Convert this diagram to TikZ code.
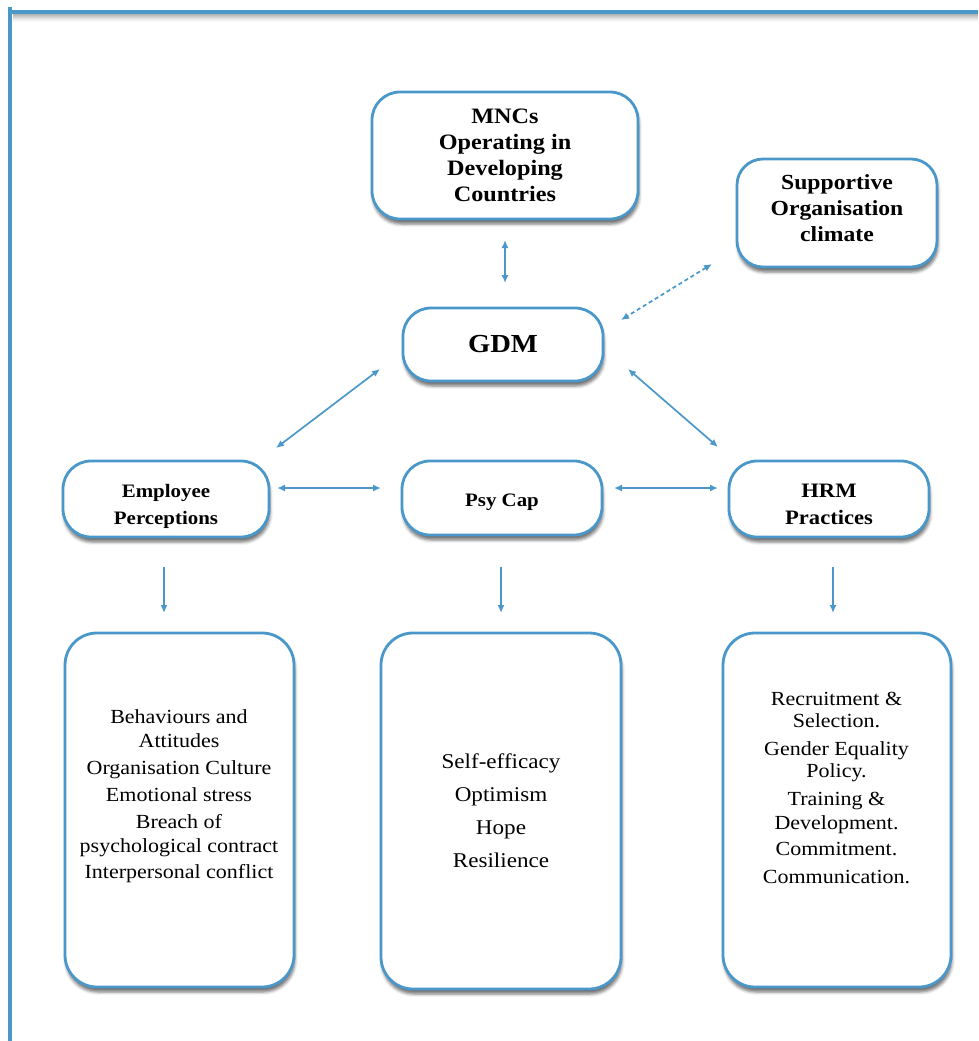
\documentclass[tikz,border=0pt]{standalone}
\usepackage{fontspec}
\setmainfont[FakeStretch=1.1]{Liberation Serif}
\usetikzlibrary{arrows.meta,shadows.blur}
\definecolor{fb}{RGB}{74,152,202}
\begin{document}
\begin{tikzpicture}[x=1pt,y=-1pt,
  box/.style={draw=fb, line width=2.8pt, fill=white, rounded corners=28pt,
    blur shadow={shadow xshift=1pt, shadow yshift=-5pt, shadow blur radius=3pt, shadow opacity=55},
    inner sep=0pt, align=center},
  btxt/.style={align=center, inner sep=0pt},
  conn/.style={draw=fb, line width=1.7pt, {Latex[length=8pt,width=7pt]}-{Latex[length=8pt,width=7pt]}},
  down/.style={draw=fb, line width=1.7pt, -{Latex[length=8pt,width=7pt]}},
  dconn/.style={conn, dash pattern=on 4pt off 3pt}
]
\useasboundingbox (0,0) rectangle (978,1041);
% frame
\foreach \k/\o in {0/0.30,1/0.26,2/0.21,3/0.16,4/0.12,5/0.08,6/0.05,7/0.02}{
  \draw[black, opacity=\o, line width=1.05pt] (13,14.5+\k) -- (978,14.5+\k);
}
\draw[fb, line width=3.6pt] (10,1041) -- (10,7);
\draw[fb, line width=3.6pt] (8.2,12) -- (978,12);

% top boxes
\node[box, minimum width=266pt, minimum height=127pt, font=\fontsize{22}{26}\selectfont\bfseries]
  (mnc) at (505,155.5) {MNCs\\Operating in\\Developing\\Countries};
\node[box, minimum width=200pt, minimum height=108pt, rounded corners=26pt, font=\fontsize{21.5}{26}\selectfont\bfseries]
  (soc) at (837,213) {Supportive\\Organisation\\climate\\[-16pt]\mbox{}};
\node[box, minimum width=200pt, minimum height=73pt, font=\fontsize{26}{30}\selectfont\bfseries]
  (gdm) at (503,344.5) {GDM};

% middle row
\node[box, minimum width=206pt, minimum height=76pt] (emp) at (166,499) {};
\node[box, minimum width=200pt, minimum height=74pt] (psy) at (502,498) {};
\node[box, minimum width=200pt, minimum height=76pt] (hrm) at (829,499) {};
\node[btxt, font=\fontsize{19}{27}\selectfont\bfseries] (empT) at (166,506) {Employee\\Perceptions};
\node[btxt, font=\fontsize{19}{27}\selectfont\bfseries] (psyT) at (502,502) {Psy Cap};
\node[btxt, font=\fontsize{20.5}{27}\selectfont\bfseries] (hrmT) at (829,504) {HRM\\Practices};

% bottom boxes
\node[box, minimum width=229pt, minimum height=354pt, rounded corners=32pt] (bl) at (179.5,810) {};
\node[box, minimum width=240pt, minimum height=356pt, rounded corners=32pt,
  font=\fontsize{21}{33}\selectfont] (bm) at (501,811) {Self-efficacy\\Optimism\\Hope\\Resilience};
\node[box, minimum width=228pt, minimum height=354pt, rounded corners=32pt] (br) at (837,810) {};

\node[btxt, font=\fontsize{20}{24}\selectfont] (blt) at (179,796)
  {Behaviours and\\Attitudes\\[3pt]Organisation Culture\\[3pt]Emotional stress\\[3pt]Breach of\\psychological contract\\[2pt]Interpersonal conflict};
\node[btxt, font=\fontsize{20}{22}\selectfont] (brt) at (836.5,788)
  {Recruitment \&\\Selection.\\[6pt]Gender Equality\\Policy.\\[6pt]Training \&\\[2pt]Development.\\[4pt]Commitment.\\[6pt]Communication.};

% connector end points
\coordinate (mncS) at (505,240);
\coordinate (gdmN) at (505,283);
\coordinate (socW) at (712,264);
\coordinate (gdmNE) at (621,320);
\coordinate (gdmSW) at (380,369);
\coordinate (empNE) at (276,448);
\coordinate (gdmSE) at (628,369);
\coordinate (hrmNW) at (718,447);
\coordinate (empE) at (277,488);
\coordinate (psyW) at (381,488);
\coordinate (psyE) at (614,488);
\coordinate (hrmW) at (718,488);
\coordinate (empS) at (164,567);
\coordinate (blN) at (164,613);
\coordinate (psyS) at (501,567);
\coordinate (bmN) at (501,613);
\coordinate (hrmS) at (833,567);
\coordinate (brN) at (833,613);

\draw[conn] (mncS) -- (gdmN);
\draw[dconn] (socW) -- (gdmNE);
\draw[conn] (gdmSW) -- (empNE);
\draw[conn] (gdmSE) -- (hrmNW);
\draw[conn] (empE) -- (psyW);
\draw[conn] (psyE) -- (hrmW);
\draw[down] (empS) -- (blN);
\draw[down] (psyS) -- (bmN);
\draw[down] (hrmS) -- (brN);
\end{tikzpicture}
\end{document}
